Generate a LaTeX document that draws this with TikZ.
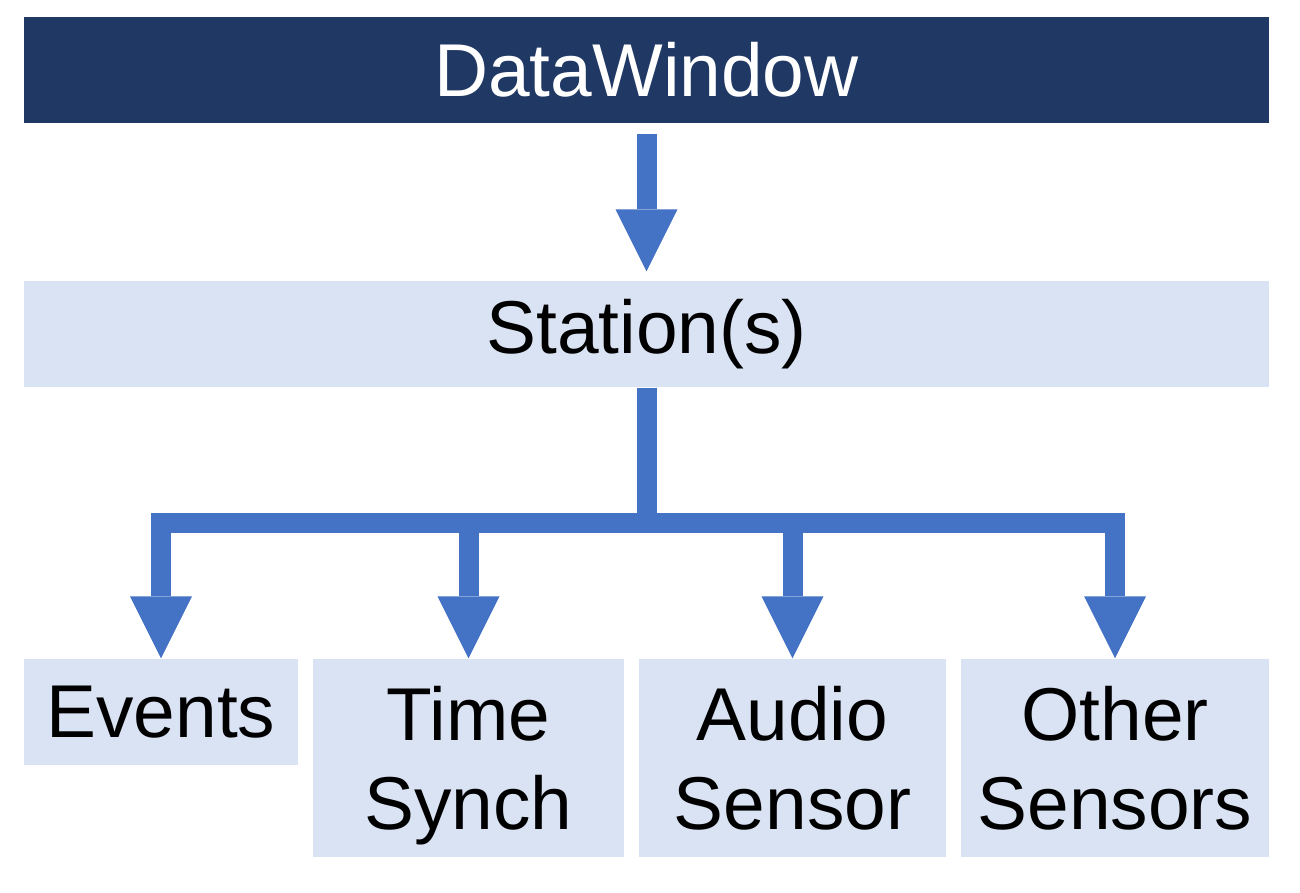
\documentclass[tikz,border=0pt]{standalone}
\usepackage{fontspec}
\setmainfont{Liberation Sans}
\usetikzlibrary{arrows.meta}
\definecolor{navy}{HTML}{203864}
\definecolor{paleblue}{HTML}{DAE3F3}
\definecolor{arrowblue}{HTML}{4472C4}

\begin{document}
\begin{tikzpicture}[
  box/.style={rectangle, fill=paleblue, inner sep=0pt, font=\fontsize{21.3}{25.3}\selectfont},
  twoline/.style={align=center, text height=1.43cm, text depth=0cm},
  flow/.style={draw=arrowblue, line width=0.2cm, -{Triangle[width=0.62cm,length=0.62cm,line width=0pt]}},
  branch/.style={flow, line join=miter}
]
\useasboundingbox (0,0) rectangle (13,-8.93);

% Nodes
\node (datawindow) [box, fill=navy, text=white, minimum width=12.45cm, minimum height=1.06cm] at (6.465,-0.70) {DataWindow};
\node (station) [box, minimum width=12.45cm, minimum height=1.06cm] at (6.465,-3.34) {Station(s)};
\node (events) [box, minimum width=2.74cm, minimum height=1.06cm] at (1.61,-7.12) {Events};
\node (timesynch) [box, twoline, minimum width=3.11cm, minimum height=1.98cm] at (4.685,-7.58) {Time\\Synch};
\node (audio) [box, twoline, minimum width=3.07cm, minimum height=1.98cm] at (7.925,-7.58) {Audio\\Sensor};
\node (other) [box, twoline, minimum width=3.08cm, minimum height=1.98cm] at (11.15,-7.58) {Other\\Sensors};
\coordinate (hub) at (6.465,-5.235);

% Arrows
\draw[flow, shorten <=0.1cm, shorten >=0.09cm] (datawindow) -- (station);
\foreach \leaf in {events,timesynch,audio,other}
  \draw[branch] (station.south) -- (hub) -| (\leaf.north);

\end{tikzpicture}
\end{document}
